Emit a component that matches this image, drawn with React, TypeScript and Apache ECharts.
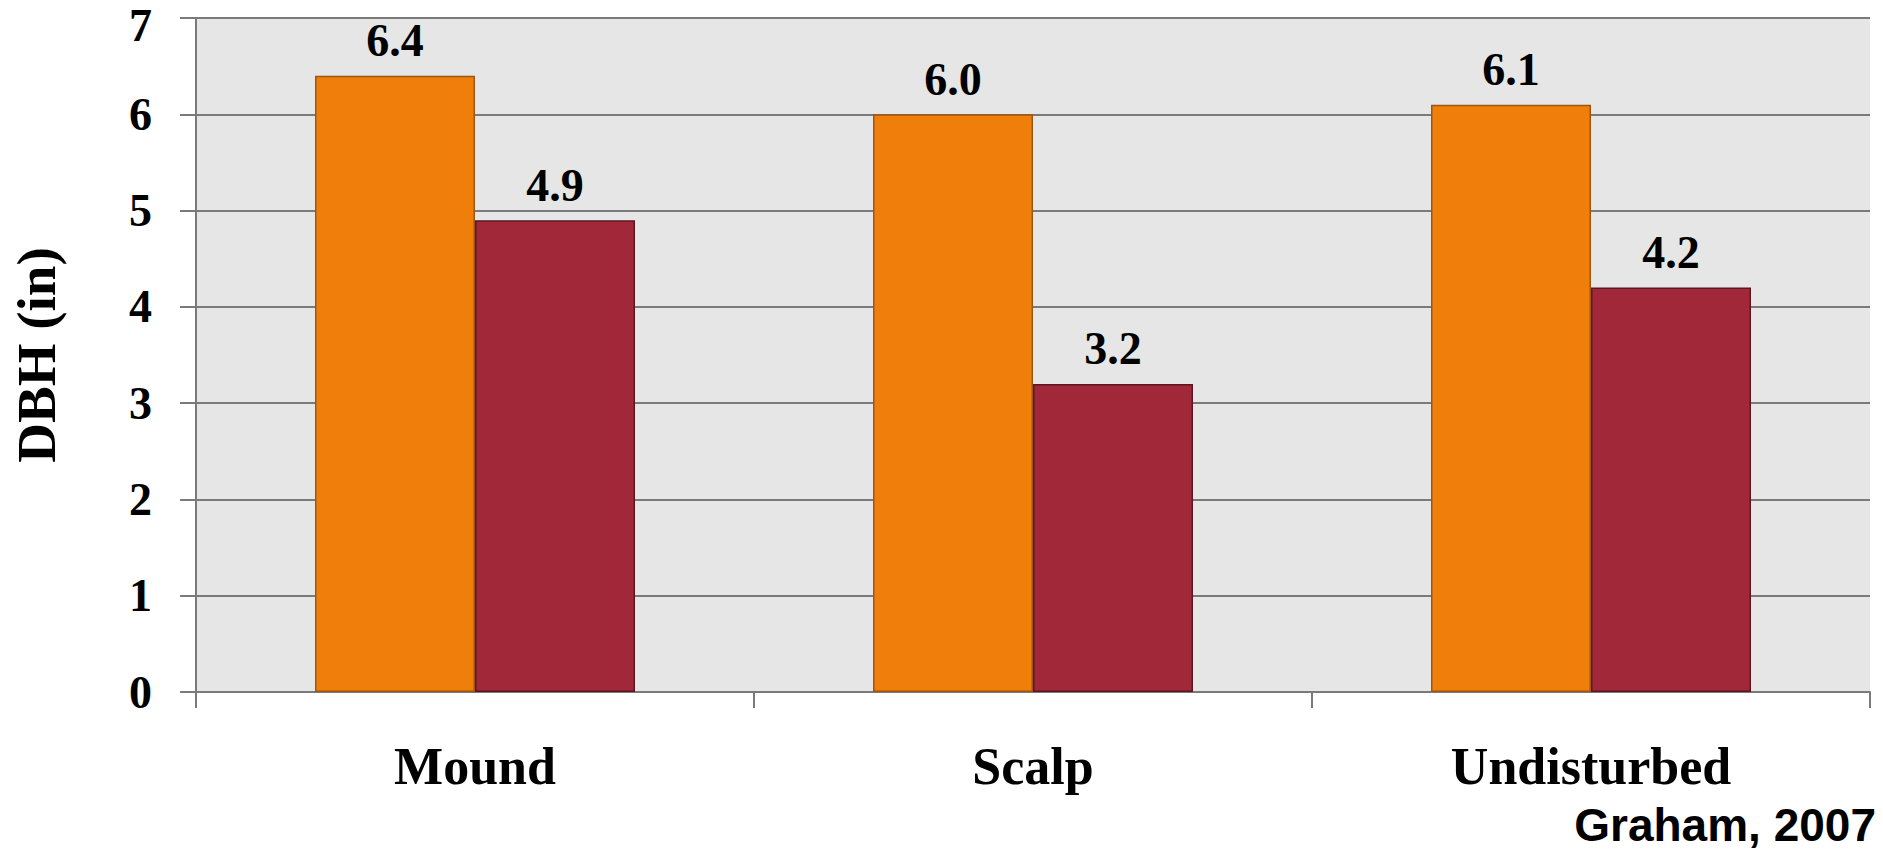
import React, { useEffect, useRef } from "react";
import * as echarts from "echarts";

const categories = ["Mound", "Scalp", "Undisturbed"];
const orangeValues = [6.4, 6.0, 6.1];
const redValues = [4.9, 3.2, 4.2];
const yTicks = [0, 1, 2, 3, 4, 5, 6, 7];

const SERIF = "'Liberation Serif', 'Times New Roman', serif";
const GRID_COLOR = "#7a7a7a";

export default function App() {
  const ref = useRef<HTMLDivElement>(null);

  useEffect(() => {
    document.body.style.margin = "0";
    const chart = echarts.init(ref.current!, undefined, { renderer: "svg" });
    const labelStyle = {
      show: true,
      position: "top" as const,
      distance: 12,
      fontFamily: SERIF,
      fontWeight: "bold" as const,
      fontSize: 46,
      color: "#000",
      formatter: (p: any) => Number(p.value).toFixed(1),
    };
    const yMax = yTicks[yTicks.length - 1];
    chart.setOption({
      animation: false,
      backgroundColor: "#ffffff",
      grid: {
        left: 196,
        right: 13,
        top: 18,
        bottom: 158,
        show: true,
        backgroundColor: "#e6e6e6",
        borderWidth: 0,
        outerBoundsMode: "none",
        containLabel: false,
      },
      xAxis: {
        type: "category",
        data: categories,
        axisLine: { show: true, lineStyle: { color: GRID_COLOR, width: 2 } },
        axisTick: { show: true, length: 16, lineStyle: { color: GRID_COLOR, width: 2 } },
        axisLabel: {
          margin: 48,
          fontFamily: SERIF,
          fontWeight: "bold",
          fontSize: 52,
          color: "#000",
        },
      },
      yAxis: {
        type: "value",
        min: yTicks[0],
        max: yMax,
        interval: 1,
        name: "DBH (in)",
        nameLocation: "middle",
        nameGap: 132,
        nameRotate: 90,
        nameTextStyle: {
          fontFamily: SERIF,
          fontWeight: "bold",
          fontSize: 55,
          color: "#000",
        },
        axisLine: { show: true, lineStyle: { color: GRID_COLOR, width: 2 } },
        axisTick: { show: true, inside: false, length: 16, lineStyle: { color: GRID_COLOR, width: 2 } },
        axisLabel: {
          margin: 44,
          fontFamily: SERIF,
          fontWeight: "bold",
          fontSize: 46,
          lineHeight: 34,
          color: "#000",
          formatter: (v: number) => (v === yMax ? "{t|" + v + "}" : String(v)),
          rich: {
            t: {
              fontFamily: SERIF,
              fontWeight: "bold",
              fontSize: 46,
              lineHeight: 34,
              color: "#000",
              padding: [14, 0, 0, 0],
            },
          },
        },
        splitLine: { show: true, lineStyle: { color: GRID_COLOR, width: 2 } },
      },
      series: [
        {
          name: "Series 1",
          type: "bar",
          data: orangeValues,
          barWidth: 160,
          barGap: "0%",
          itemStyle: { color: "#ef7f0a", borderColor: "#a0560e", borderWidth: 1.5 },
          label: labelStyle,
        },
        {
          name: "Series 2",
          type: "bar",
          data: redValues,
          barWidth: 160,
          barGap: "0%",
          itemStyle: { color: "#a02838", borderColor: "#5e1520", borderWidth: 1.5 },
          label: labelStyle,
        },
      ],
      graphic: [
        {
          type: "text",
          right: 7,
          top: 802,
          style: {
            text: "Graham, 2007",
            fontFamily: "'Liberation Sans', Arial, sans-serif",
            fontWeight: "bold",
            fontSize: 46,
            fill: "#000",
          },
        },
      ],
    });
    return () => chart.dispose();
  }, []);

  return <div ref={ref} style={{ width: 1883, height: 850 }} />;
}
